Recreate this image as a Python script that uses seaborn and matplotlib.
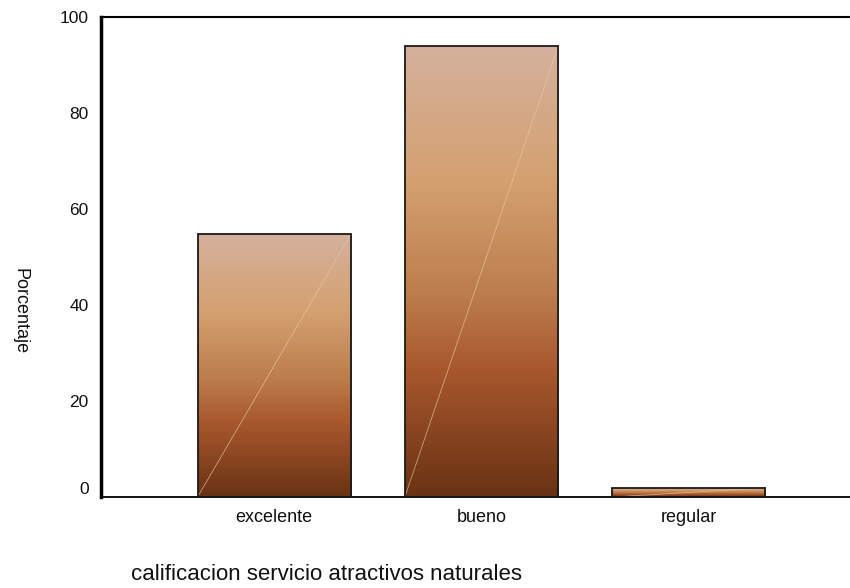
import numpy as np
import pandas as pd
import matplotlib
matplotlib.use("Agg")
import matplotlib.pyplot as plt
from matplotlib.colors import LinearSegmentedColormap
import seaborn as sns

categories = ["excelente", "bueno", "regular"]
percentages = [54.8, 94.0, 1.9]
y_ticks = [0, 20, 40, 60, 80, 100]
x_title = "calificacion servicio atractivos naturales"
y_title = "Porcentaje"

sns.set_theme(style="white")
plt.rcParams["font.family"] = ["Liberation Sans", "DejaVu Sans"]

df = pd.DataFrame({"cat": categories, "pct": percentages})

fig = plt.figure(figsize=(8.5, 5.88), dpi=100)
ax = fig.add_axes([101/850, 91/588, 749/850, 480/588])

sns.barplot(data=df, x="cat", y="pct", ax=ax, width=0.74, color="#c08050",
            edgecolor="#1a1a1a", linewidth=1.3, zorder=3)

cmap = LinearSegmentedColormap.from_list("brown", [
    (0.0, "#d5b19d"), (0.3, "#d4a070"), (0.55, "#bd7d4c"),
    (0.72, "#a8572c"), (1.0, "#693214")])
grad = np.linspace(0, 1, 256).reshape(-1, 1)

for p in ax.patches:
    x0, y0 = p.get_x(), p.get_y()
    w, h = p.get_width(), p.get_height()
    p.set_facecolor("none")
    im = ax.imshow(grad, cmap=cmap, aspect="auto", extent=[x0, x0 + w, y0, y0 + h],
                   origin="upper", zorder=2, interpolation="bicubic")
    im.set_clip_path(p)
    ax.plot([x0, x0 + w], [y0, y0 + h], color="#e8c8a8", lw=0.6, alpha=0.7, zorder=2.5)

ax.set_xlim(-0.836, 2.778)
ax.set_ylim(0, 100)
ax.set_yticks(y_ticks)
ax.set_yticklabels([str(t) for t in y_ticks], fontsize=12.5)
ax.set_xticks(range(len(categories)))
ax.set_xticklabels(categories, fontsize=13)
ax.set_xlabel("")
ax.set_ylabel("")

ax.tick_params(axis="y", direction="out", length=3, width=2.5, color="black", pad=6, labelcolor="#111111")
ax.tick_params(axis="x", direction="out", length=4, width=2.5, color="black", pad=5, labelcolor="#111111")

# shift "0" label upward like reference
ax.yaxis.get_major_ticks()[0].label1.set_verticalalignment("bottom")

for s in ["left", "bottom", "top"]:
    ax.spines[s].set_visible(True)
    ax.spines[s].set_color("black")
ax.spines["left"].set_linewidth(2.5)
ax.spines["bottom"].set_linewidth(1.3)
ax.spines["top"].set_linewidth(1.5)
ax.spines["right"].set_visible(False)

fig.text(131/850, 1 - 575/588, x_title, fontsize=16, va="center", ha="left", color="#111111")
fig.text(20/850, 1 - 311/588, y_title, fontsize=13, va="center", ha="center",
         rotation=-90, color="#111111")

fig.savefig("out.png", dpi=100, facecolor="white")
